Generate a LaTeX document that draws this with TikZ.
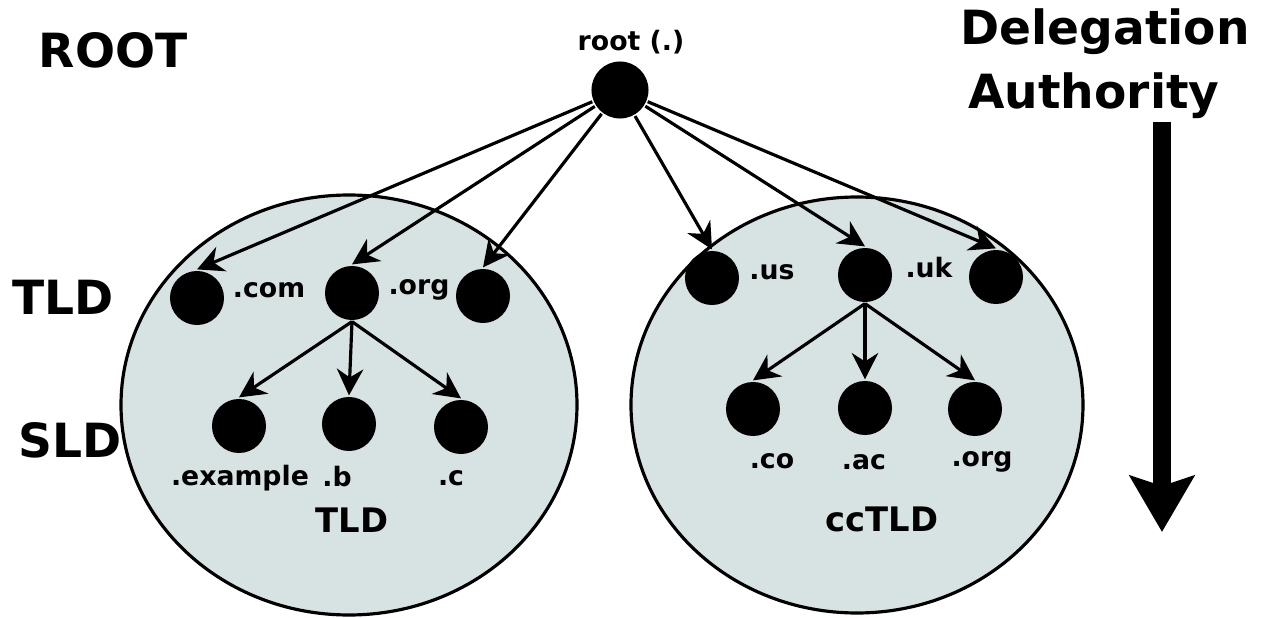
\documentclass[tikz,border=0pt]{standalone}
\usepackage{fontspec}
\setmainfont{DejaVu Sans}
\usetikzlibrary{arrows.meta}
\tikzset{>={Stealth[length=7.5pt,width=7.5pt,inset=2.4pt]}}
\definecolor{czone}{RGB}{214,227,226}
\newcommand*{\smallb}{\bfseries\fontsize{7.6}{9}\selectfont}
\newcommand*{\bigb}{\bfseries\fontsize{13.4}{16}\selectfont}

\begin{document}
\begin{tikzpicture}[x=0.01cm, y=-0.01cm, line width=0.9pt,
    dot/.style={circle, fill, inner sep=0pt, minimum size=0.54cm},
    lbl/.style={inner sep=0pt, font=\smallb},
    side/.style={inner sep=0pt, font=\bigb}]
    \useasboundingbox (0, 0) rectangle (1265, 618);
    % zones
    \draw[fill=czone](349, 405) ellipse [x radius=228, y radius=210];
    \draw[fill=czone](857, 405) ellipse [x radius=226, y radius=208];
    \node[inner sep=0pt, font=\bfseries\fontsize{9.6}{11}\selectfont] at (352, 520) {TLD};
    \node[inner sep=0pt, font=\bfseries\fontsize{9.6}{11}\selectfont] at (882, 519) {ccTLD};
    % levels
    \node[side] at (113, 50) {ROOT};
    \node[side] at (63, 297) {TLD};
    \node[side] at (70, 440) {SLD};
    % root
    \node[dot, minimum size=0.57cm] (root) at (620, 90) {};
    \node[lbl] at (631, 42) {root (.)};
    % generic tlds
    \node[dot] (tcom) at (197, 298) {};
    \node[dot] (torg) at (352, 293) {};
    \node[dot] (tnet) at (483, 296) {};
    \node[lbl] at (269, 290) {.com};
    \node[lbl] at (419, 290) {.org};
    \node[dot] (sexa) at (239, 426) {};
    \node[dot] (sb) at (349, 424) {};
    \node[dot] (sc) at (461, 427) {};
    \node[lbl] at (240, 478) {.example};
    \node[lbl] at (337, 477) {.b};
    \node[lbl] at (451, 478) {.c};
    % country tlds
    \node[dot] (cus) at (712, 278) {};
    \node[dot] (cuk) at (865, 275) {};
    \node[dot] (cfr) at (996, 277) {};
    \node[lbl] at (772, 272) {.us};
    \node[lbl] at (929, 268) {.uk};
    \node[dot] (cco) at (753, 409) {};
    \node[dot] (cac) at (865, 408) {};
    \node[dot] (corg) at (975, 409) {};
    \node[lbl] at (772, 461) {.co};
    \node[lbl] at (864, 462) {.ac};
    \node[lbl] at (982, 462) {.org};
    % delegations
    \foreach \t in {tcom, torg, tnet, cus, cuk, cfr}
        \draw[->](root)--(\t.north);
    \foreach \s in {sexa, sb, sc}
        \draw[->](torg.south)--(\s.north);
    \foreach \s in {cco, cac, corg}
        \draw[->](cuk.south)--(\s.north);
    % authority
    \node[side] at (1105, 32) {Delegation};
    \node[side] at (1094, 96) {Authority};
    \coordinate (atop) at (1162, 122);
    \coordinate (abot) at (1162, 532);
    \draw[line width=5pt, -{Stealth[length=0.56cm, width=0.64cm, inset=0.1cm]}](atop)--(abot);
\end{tikzpicture}
\end{document}
